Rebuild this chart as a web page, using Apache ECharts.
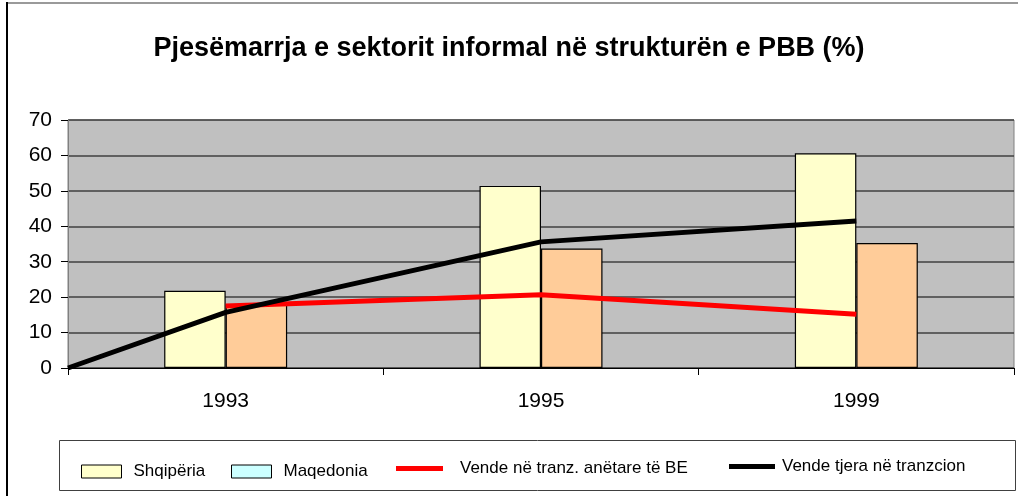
<!DOCTYPE html>
<html>
<head>
<meta charset="utf-8">
<script src="https://cdn.jsdelivr.net/npm/echarts@6/dist/echarts.min.js"></script>
<style>
html,body{margin:0;padding:0;background:#fff;}
#chart{width:1018px;height:496px;}
</style>
</head>
<body>
<div id="chart"></div>
<script>
const titleText = 'Pjesëmarrja e sektorit informal në strukturën e PBB (%)';
const categories = ['1993', '1995', '1999'];
const yTicks = [0, 10, 20, 30, 40, 50, 60, 70];
const shqiperia = [21.8, 51.4, 60.6];
const maqedonia = [18, 33.7, 35.3];
const vendeBE = [17.5, 20.7, 15.2];
const vendeTjera = [15.7, 35.6, 41.5];
// black line in the reference starts from 0 at the left edge of the plot
const vendeTjeraStart = 0;
const seriesNames = ['Shqipëria', 'Maqedonia', 'Vende në tranz. anëtare të BE', 'Vende tjera në tranzcion'];

const catPos = categories.map((c, i) => i + 0.5);
const beData = vendeBE.map((v, i) => [catPos[i], v]);
const tjeraData = [[0, vendeTjeraStart]].concat(vendeTjera.map((v, i) => [catPos[i], v]));

const font = 'Liberation Sans, Arial, sans-serif';
const chart = echarts.init(document.getElementById('chart'), null, {renderer: 'canvas'});

function lg(name, left, top, w, icon, itemStyle, textPad) {
  const d = {name: name};
  if (icon) d.icon = icon;
  if (itemStyle) d.itemStyle = itemStyle;
  return {
    data: [d], left: left, top: top, orient: 'horizontal',
    itemWidth: w, itemHeight: 13, itemGap: 0, padding: 0,
    selectedMode: false, symbolKeepAspect: true,
    textStyle: {fontFamily: font, fontSize: 17, color: '#000', padding: textPad}
  };
}

chart.setOption({
  animation: false,
  backgroundColor: '#fff',
  title: {
    text: titleText, left: 'center', top: 30,
    textStyle: {fontFamily: font, fontSize: 27, fontWeight: 'bold', color: '#000'}
  },
  graphic: [
    {type: 'line', shape: {x1: 7, y1: 3, x2: 1018, y2: 3}, style: {stroke: '#9a9a9a', lineWidth: 2}, z: 0},
    {type: 'line', shape: {x1: 7, y1: 2, x2: 7, y2: 496}, style: {stroke: '#000', lineWidth: 2}, z: 0},
    {type: 'rect', shape: {x: 59.5, y: 440.5, width: 956, height: 50}, style: {fill: '#fff', stroke: '#404040', lineWidth: 1}, z: 0}
  ],
  legend: [
    lg(seriesNames[0], 81, 463, 40, 'rect', {color: '#FFFFCC', borderColor: '#000', borderWidth: 1}, [0, 0, 0, 7]),
    lg(seriesNames[1], 231, 463, 40, 'rect', {color: '#CCFFFF', borderColor: '#000', borderWidth: 1}, [0, 0, 0, 7]),
    lg(seriesNames[2], 396, 460, 47, 'path://M0,0 L47,0 L47,5 L0,5 Z', {color: '#FF0000', borderWidth: 0}, [9, 0, 0, 12]),
    lg(seriesNames[3], 729, 458, 46, 'path://M0,0 L46,0 L46,5 L0,5 Z', {color: '#000000', borderWidth: 0}, [0, 0, 0, 2])
  ],
  grid: {
    left: 68, right: 4, top: 120, bottom: 128,
    show: true, backgroundColor: '#C0C0C0', borderColor: '#808080', borderWidth: 1
  },
  xAxis: [
    {
      type: 'category', data: categories, boundaryGap: true,
      axisLine: {show: true, lineStyle: {color: '#000', width: 1}},
      axisTick: {show: true, interval: 0, length: 7, lineStyle: {color: '#000'}},
      axisLabel: {fontFamily: font, fontSize: 21, color: '#000', margin: 23},
      splitLine: {show: false}
    },
    {
      type: 'value', min: 0, max: categories.length, show: false,
      splitLine: {show: false}
    }
  ],
  yAxis: {
    type: 'value', min: yTicks[0], max: yTicks[yTicks.length - 1], interval: 10,
    axisLine: {show: true, lineStyle: {color: '#808080', width: 1}},
    axisTick: {show: true, length: 7, lineStyle: {color: '#000'}},
    axisLabel: {fontFamily: font, fontSize: 21, color: '#000', margin: 16},
    splitLine: {show: true, lineStyle: {color: '#404040', width: 1.5}}
  },
  series: [
    {
      name: seriesNames[0], type: 'bar', data: shqiperia, xAxisIndex: 0,
      barGap: '0%', barCategoryGap: '61%',
      itemStyle: {color: '#FFFFCC', borderColor: '#000', borderWidth: 1.2}, z: 2
    },
    {
      name: seriesNames[1], type: 'bar', data: maqedonia, xAxisIndex: 0,
      barGap: '0%', barCategoryGap: '61%',
      itemStyle: {color: '#FFCC99', borderColor: '#000', borderWidth: 1.2}, z: 2
    },
    {
      name: seriesNames[2], type: 'line', data: beData, xAxisIndex: 1,
      symbol: 'none', lineStyle: {color: '#FF0000', width: 5}, itemStyle: {color: '#FF0000'}, z: 3
    },
    {
      name: seriesNames[3], type: 'line', data: tjeraData, xAxisIndex: 1,
      symbol: 'none', lineStyle: {color: '#000000', width: 5}, itemStyle: {color: '#000000'}, z: 4
    }
  ]
});
</script>
</body>
</html>
